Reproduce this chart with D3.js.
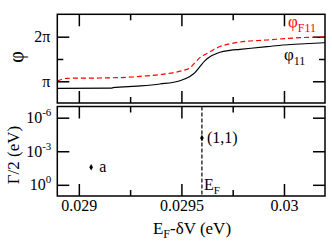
<!DOCTYPE html>
<html>
<head>
<meta charset="utf-8">
<script src="https://cdn.jsdelivr.net/npm/d3@7"></script>
<style>
  body { margin: 0; background: #fff; }
  svg { display: block; }
</style>
</head>
<body>
<div id="chart"></div>
<script>
// phase curves (x in eV, phase in units of pi)
var phi11X = [0.028895, 0.02916, 0.029166, 0.029298, 0.029395, 0.029493, 0.029541, 0.029566, 0.02959, 0.029615,
              0.029639, 0.029663, 0.029688, 0.029737, 0.029785, 0.029917, 0.029995, 0.030078, 0.0302];
var phi11Y = [0.843, 0.845, 0.858, 0.895, 0.939, 1.013, 1.108, 1.193, 1.327, 1.462,
              1.552, 1.605, 1.652, 1.695, 1.717, 1.776, 1.814, 1.836, 1.865];
var phiF11X = [0.028895, 0.028917, 0.028941, 0.029102, 0.029263, 0.029298, 0.029395, 0.029459, 0.029505, 0.029541,
               0.029566, 0.02959, 0.029615, 0.029639, 0.029688, 0.029737, 0.029785, 0.029917, 0.030078, 0.0302];
var phiF11Y = [1.007, 1.045, 1.067, 1.074, 1.096, 1.11, 1.15, 1.19, 1.24, 1.30,
               1.42, 1.53, 1.60, 1.66, 1.78, 1.84, 1.88, 1.926, 1.978, 1.993];
// resonance widths
var resLabels = ["a", "(1,1)"];
var resX = [0.02906, 0.0296];
var resGamma = [0.027, 6.6e-5];
var fermiX = 0.0296;
// ticks
var xMajor = [0.029, 0.0295, 0.03];
var xMinor = [0.02925, 0.02975];
var xTickLabels = ["0.029", "0.0295", "0.03"];
var phiMajor = [1, 2];
var phiMinor = [1.5];
var phiTickLabels = ["\u03c0", "2\u03c0"];
var gammaMajor = [1e-6, 1e-3, 1];
var gammaExp = ["-6", "-3", "0"];

var width = 332, height = 247;
var left = 57.3, right = 325;
var top1 = 14.3, bot1 = 103, top2 = 106.5, bot2 = 196;
var serif = '"Liberation Serif", "Times New Roman", Times, serif';

var svg = d3.select('#chart').append('svg')
  .attr('width', width)
  .attr('height', height);

var x = d3.scaleLinear().domain([0.028895, 0.0302]).range([left, right]);
var yPhi = d3.scaleLinear().domain([0.513, 2.502]).range([bot1, top1]);
var yGam = d3.scaleLog().domain([10, 1e-7]).range([bot2, top2]);

function inwardTicks(g, axisFn, scale, major, minor, labels) {
  var ax = axisFn(scale).tickValues(major).tickSize(-12).tickSizeOuter(0).tickPadding(7)
    .tickFormat(labels ? function(d, i) { return labels[i]; } : function() { return ''; });
  g.call(ax);
  g.attr('font-family', null).attr('font-size', null);
  g.select('.domain').remove();
  if (minor.length) {
    var mg = g.append('g');
    mg.call(axisFn(scale).tickValues(minor).tickSize(-6).tickSizeOuter(0).tickFormat(function() { return ''; }));
    mg.select('.domain').remove();
  }
  g.selectAll('line').attr('stroke', '#000').attr('stroke-width', 1.5);
  g.selectAll('text').attr('fill', '#000').style('font-family', serif).style('font-size', '16px');
}

// ---- top panel ----
var p1 = svg.append('g');
inwardTicks(p1.append('g').attr('transform', 'translate(0,' + bot1 + ')'), d3.axisBottom, x, xMajor, xMinor, null);
inwardTicks(p1.append('g').attr('transform', 'translate(0,' + top1 + ')'), d3.axisTop, x, xMajor, xMinor, null);
inwardTicks(p1.append('g').attr('transform', 'translate(' + left + ',0)'), d3.axisLeft, yPhi, phiMajor, phiMinor, phiTickLabels);
inwardTicks(p1.append('g').attr('transform', 'translate(' + right + ',0)'), d3.axisRight, yPhi, phiMajor, phiMinor, null);

var line = d3.line().x(function(d) { return x(d[0]); }).y(function(d) { return yPhi(d[1]); }).curve(d3.curveMonotoneX);
p1.append('path')
  .attr('d', line(d3.zip(phi11X, phi11Y)))
  .attr('fill', 'none').attr('stroke', '#000').attr('stroke-width', 1.2);
p1.append('path')
  .attr('d', line(d3.zip(phiF11X, phiF11Y)))
  .attr('fill', 'none').attr('stroke', '#f00').attr('stroke-width', 1.2)
  .attr('stroke-dasharray', '5,3');

p1.append('rect')
  .attr('x', left).attr('y', top1).attr('width', right - left).attr('height', bot1 - top1)
  .attr('fill', 'none').attr('stroke', '#000').attr('stroke-width', 1.5);

var lblF = p1.append('text').attr('x', 288).attr('y', 27).attr('fill', '#f00')
  .style('font-family', serif).style('font-size', '17px');
lblF.append('tspan').text('\u03c6');
lblF.append('tspan').attr('dy', 5).style('font-size', '12px').text('F11');
var lbl11 = p1.append('text').attr('x', 284).attr('y', 60).attr('fill', '#000')
  .style('font-family', serif).style('font-size', '17px');
lbl11.append('tspan').text('\u03c6');
lbl11.append('tspan').attr('dy', 5).style('font-size', '12px').text('11');

svg.append('text')
  .attr('transform', 'translate(23,57) rotate(-90)')
  .attr('text-anchor', 'middle')
  .style('font-family', serif)
  .style('font-size', '20px')
  .text('\u03c6');

// ---- bottom panel ----
var p2 = svg.append('g');
inwardTicks(p2.append('g').attr('transform', 'translate(0,' + bot2 + ')'), d3.axisBottom, x, xMajor, xMinor, xTickLabels);
inwardTicks(p2.append('g').attr('transform', 'translate(0,' + top2 + ')'), d3.axisTop, x, xMajor, xMinor, null);
var gl = p2.append('g').attr('transform', 'translate(' + left + ',0)');
inwardTicks(gl, d3.axisLeft, yGam, gammaMajor, [], ['10', '10', '10']);
// mantissa plus raised exponent, right aligned near the axis
gl.selectAll('.tick text').each(function(d, i) {
  var t = d3.select(this);
  t.text('10');
  t.append('tspan').attr('dy', -7).style('font-size', '11px').text(gammaExp[i]);
  t.attr('x', -6).attr('text-anchor', 'end');
});
inwardTicks(p2.append('g').attr('transform', 'translate(' + right + ',0)'), d3.axisRight, yGam, gammaMajor, [], null);
p2.selectAll('.tick text').filter(function() { return this.textContent.indexOf('0.0') === 0; })
  .attr('y', 3.5);

p2.append('line')
  .attr('x1', x(fermiX)).attr('x2', x(fermiX))
  .attr('y1', top2).attr('y2', bot2)
  .attr('stroke', '#000').attr('stroke-width', 1.2).attr('stroke-dasharray', '4,2');

p2.selectAll('.res')
  .data(resX)
  .enter()
  .append('path')
  .attr('class', 'res')
  .attr('d', d3.symbol().type(d3.symbolDiamond).size(12))
  .attr('transform', function(d, i) { return 'translate(' + x(d) + ',' + yGam(resGamma[i]) + ')'; })
  .attr('fill', '#000');
p2.selectAll('.reslbl')
  .data(resLabels)
  .enter()
  .append('text')
  .attr('class', 'reslbl')
  .attr('x', function(d, i) { return x(resX[i]) + (i === 0 ? 8 : 5); })
  .attr('y', function(d, i) { return yGam(resGamma[i]) + 5; })
  .style('font-family', serif)
  .style('font-size', '16px')
  .text(function(d) { return d; });

var ef = p2.append('text').attr('x', x(fermiX) + 2).attr('y', 190)
  .style('font-family', serif).style('font-size', '16px');
ef.append('tspan').text('E');
ef.append('tspan').attr('dy', 4).style('font-size', '11px').text('F');

p2.append('rect')
  .attr('x', left).attr('y', top2).attr('width', right - left).attr('height', bot2 - top2)
  .attr('fill', 'none').attr('stroke', '#000').attr('stroke-width', 1.5);

svg.append('text')
  .attr('transform', 'translate(18.5,155) rotate(-90)')
  .attr('text-anchor', 'middle')
  .style('font-family', serif)
  .style('font-size', '17px')
  .text('\u0393/2 (eV)');

var xt = svg.append('text').attr('x', 192).attr('y', 233.5).attr('text-anchor', 'middle')
  .style('font-family', serif).style('font-size', '17px');
xt.append('tspan').text('E');
xt.append('tspan').attr('dy', 4).style('font-size', '12px').text('F');
xt.append('tspan').attr('dy', -4).text('-\u03b4V (eV)');
</script>
</body>
</html>
